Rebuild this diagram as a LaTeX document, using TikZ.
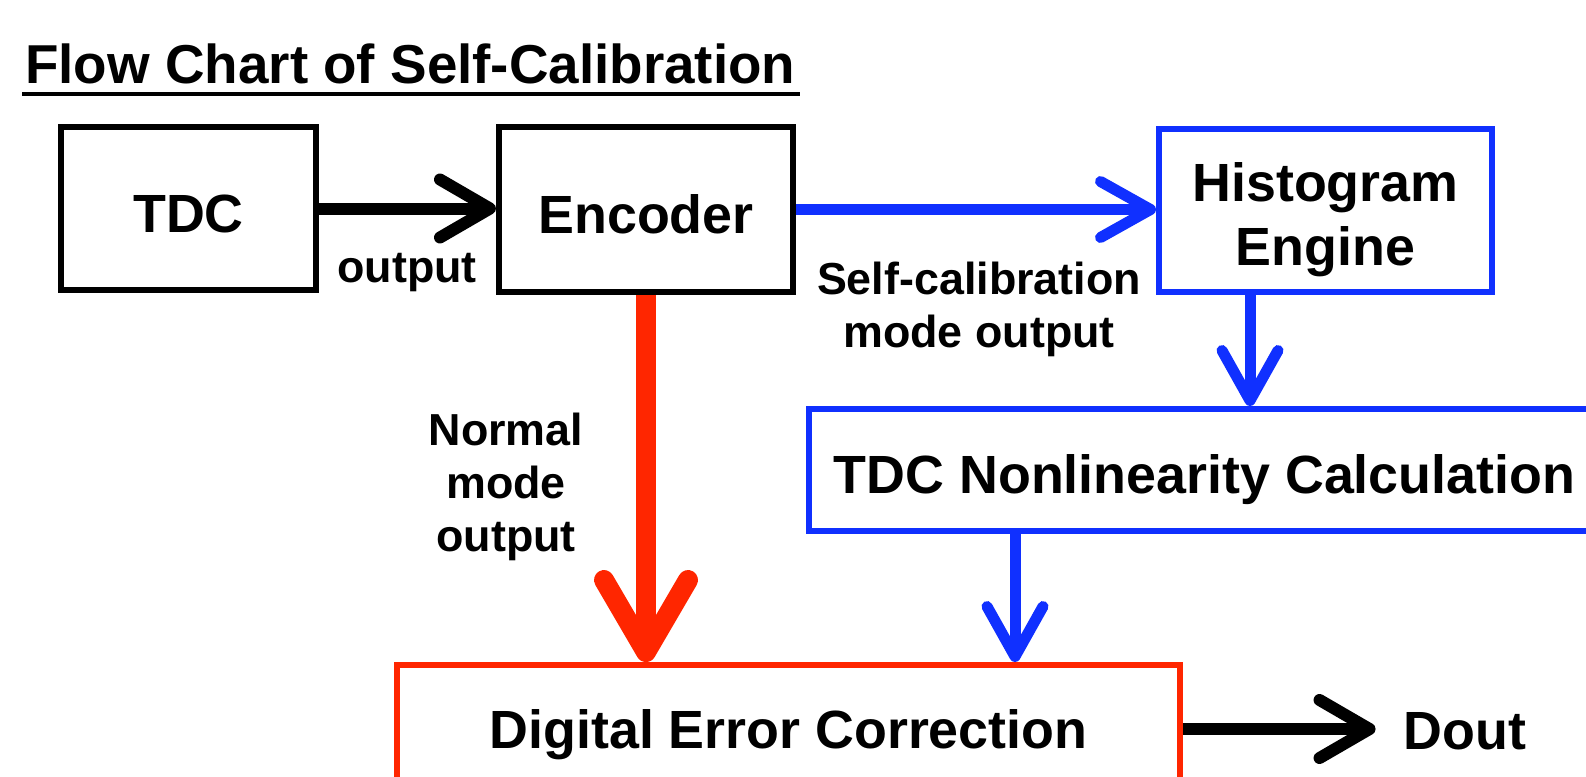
\documentclass[tikz,border=0pt]{standalone}
\usepackage{fontspec}
\setmainfont{Liberation Sans}
\usetikzlibrary{arrows.meta,calc}
\definecolor{flowblue}{RGB}{16,48,255}
\definecolor{flowred}{RGB}{255,38,0}
\begin{document}
\begin{tikzpicture}[x=1bp,y=-1bp,
  boxtext/.style={font=\fontsize{54}{64}\selectfont\bfseries, align=center,
    text height=47bp, text depth=0pt},
  kbox/.style={boxtext, draw=black, line width=6bp},
  bbox/.style={boxtext, draw=flowblue, line width=6bp},
  rbox/.style={boxtext, draw=flowred, line width=6bp},
  lbl/.style={font=\fontsize{45}{53}\selectfont\bfseries, align=center, inner sep=0pt},
  ttl/.style={font=\fontsize{55}{60}\selectfont\bfseries, inner sep=0pt},
  karrow/.style={draw=black, line width=12bp,
    -{Straight Barb[length=50bp,width=58bp,round]}},
  barrow/.style={draw=flowblue, line width=11bp,
    -{Straight Barb[length=50bp,width=56bp,round]}},
  rarrow/.style={draw=flowred, line width=20bp,
    -{Straight Barb[length=72bp,width=84bp,round]}},
]
\useasboundingbox (0,0) rectangle (1586,777);
\clip (0,0) rectangle (1586,777);

% title with underline
\node[ttl, anchor=base west] (title) at (25,83) {Flow Chart of Self-Calibration};
\draw[line width=4.5bp] ($(title.base west)+(-3,11)$) -- ($(title.base east)+(4,11)$);

% blocks
\node[kbox, minimum width=255bp, minimum height=163bp] (tdc) at (188.5,208.5) {TDC};
\node[kbox, minimum width=294bp, minimum height=165bp] (enc) at (646,209.5) {Encoder};
\node[bbox, minimum width=333bp, minimum height=163bp, text height=110bp] (hist) at (1325.5,210.5) {Histogram\\Engine};
\node[bbox, minimum width=791bp, minimum height=122bp] (nl) at (1204.5,470) {TDC Nonlinearity Calculation};
\node[rbox, minimum width=783bp, minimum height=128bp, text height=39bp] (dec) at (788.5,729) {Digital Error Correction};
\node[boxtext, text height=39bp, inner xsep=28bp, inner ysep=0pt] (dout) at (1465,730) {Dout};

% connector labels
\node[lbl] (lout) at (407,273) {output};
\node[lbl] (lsc) at (979,309.5) {Self-calibration\\mode output};
\node[lbl] (lnm) at (506,487) {Normal\\mode\\output};

% connectors
\coordinate (hx) at (1250,0);
\coordinate (nx) at (1015,0);
\draw[karrow] (tdc.east) -- (tdc.east -| enc.west);
\draw[barrow] (enc.east) -- (enc.east -| hist.west);
\draw[rarrow] (enc.south) -- (enc.south |- dec.north);
\draw[barrow] (hx |- hist.south) -- (hx |- nl.north);
\draw[barrow] (nx |- nl.south) -- (nx |- dec.north);
\draw[karrow] (dec.east) -- (dec.east -| dout.west);
\end{tikzpicture}
\end{document}
